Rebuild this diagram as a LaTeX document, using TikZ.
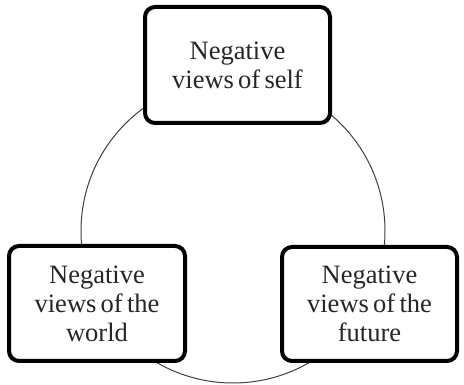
\documentclass[tikz,border=0pt]{standalone}
\usepackage{fontspec}
\setmainfont{Liberation Serif}
\newcommand{\viewfont}{\fontsize{26.5}{29}\selectfont\spaceskip=0.16em\relax}
\tikzset{
  viewbox/.style={draw=black, line width=4pt, rounded corners=10pt, fill=white,
    align=center, inner sep=0pt, text=black!85, font=\viewfont},
  cycle/.style={draw=black!75, line width=1pt}
}
\begin{document}
\begin{tikzpicture}[x=1pt,y=-1pt]
\useasboundingbox (0,0) rectangle (464,385);
\coordinate (c) at (233,231);
\draw[cycle] (c) circle[radius=152];
\node[viewbox, minimum width=185pt, minimum height=116pt] (self) at (237.5,65) {Negative\\views of self};
\node[viewbox, minimum width=176pt, minimum height=115pt] (world) at (97,303.5) {Negative\\views of the\\world};
\node[viewbox, minimum width=175pt, minimum height=114pt] (future) at (369.5,304) {Negative\\views of the\\future};
\end{tikzpicture}
\end{document}
